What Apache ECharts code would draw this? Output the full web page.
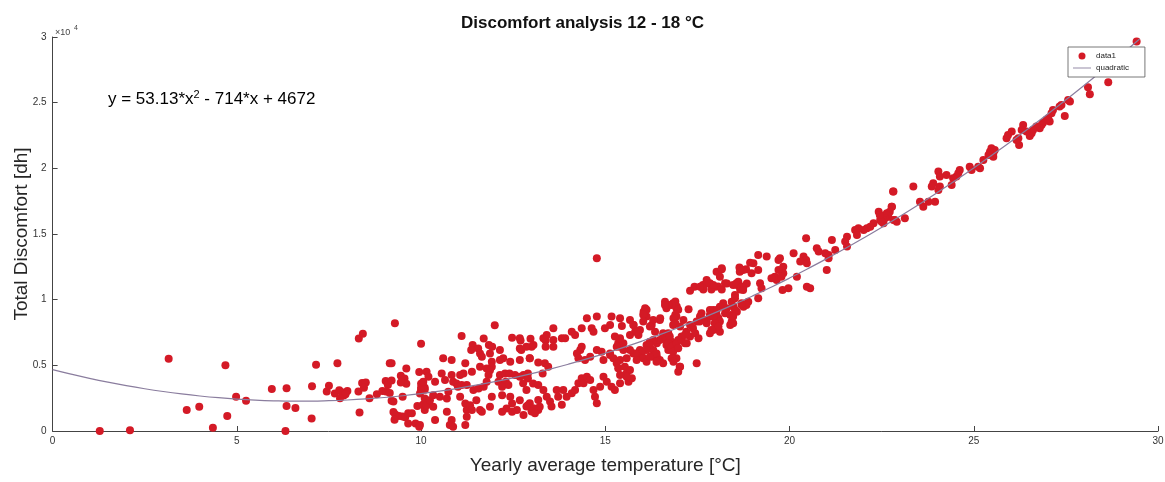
<!DOCTYPE html>
<html>
<head>
<meta charset="utf-8">
<script src="https://cdn.jsdelivr.net/npm/echarts@6/dist/echarts.min.js"></script>
<style>
html,body{margin:0;padding:0;background:#fff;}
#chart{width:1165px;height:482px;}
</style>
</head>
<body>
<div id="chart"></div>
<script>
// ---- data (temperature °C, discomfort dh) ----
var pointsCold = [
[1.28,0],[2.1,60],[3.15,5500],[3.64,1600],[3.98,1850],[4.35,250],[4.69,5000],[4.74,1150],[4.98,2600],[5.25,2300],
[5.95,3200],[6.35,3250],[6.35,1900],[6.59,1750],[6.32,0],[7.03,950],[7.04,3400],[7.15,5050],[7.44,3000],[7.5,3450],
[7.73,5150],[7.66,2850],[7.78,3100],
[8.31,7050],[8.42,7400],[7.85,2950],[7.9,2700],[8.0,3050],[7.95,2800],[7.8,2500],[8.3,3000],[8.4,3650],[8.5,3700],
[8.45,3300],[8.6,2500],[8.8,2800],[8.95,3050],[9.04,3800],[9.1,3500],[9.2,3850],[9.05,3000],[9.15,2900],[9.29,8200],
[9.15,5150],[9.2,5150],[9.45,4200],[9.55,4000],[9.6,3600],[9.45,3700],[9.6,4750],[9.5,2600],[9.2,2300],[9.25,2250],
[9.95,4500],[8.33,1400],[9.25,1450],[9.3,1250],[9.4,1150],[9.5,1100],[9.57,1050],[9.28,850],[9.65,1350],[9.75,1350],
[9.65,580],[9.85,580],[9.95,330],[9.9,1900]
];
var pointsMild = [
[10.0,3600],[10.05,3500],[10.1,3300],[10.0,3300],[10.1,3150],[10.0,6650],[10.05,2000],[10.1,1600],
[12.0,8050],[11.1,7240],[12.47,7100],[12.7,6900],[12.97,7020],[13.38,6900],[11.7,7050],[11.84,6540],[11.93,6410],
[11.4,6540],[11.55,6290],[11.6,5910],[11.65,5650],[11.36,6160],[12.68,6280],[13.0,6410],[13.38,6410],[10.6,5530],
[10.83,5400],[12.14,6160],[12.23,5530],[12.14,5400],[12.42,5270],[11.87,5910],[11.92,5270],[11.92,4890],[11.2,5150],
[11.38,4510],[11.15,4380],[11.06,4260],[11.6,4890],[11.78,4760],[11.87,4630],[12.68,5400],[12.95,5530],[13.18,5210],
[13.36,5150],[13.45,4890],[10.15,4510],[10.2,4130],[10.38,3750],[10.56,4380],[10.65,3880],[10.06,3750],[10.0,3120],
[10.83,4260],[10.87,3750],[10.96,3620],[11.0,3370],[11.1,3500],[11.24,3500],[11.42,3120],[11.56,3240],[11.7,3370],
[11.78,3750],[11.83,4260],[12.14,4260],[12.28,4380],[12.4,4380],[12.55,4260],[12.78,4260],[12.9,4380],[12.1,3750],
[12.3,3750],[12.37,3500],[12.9,4000],[13.04,3620],[13.18,3500],[13.3,4380],[9.97,2860],[10.1,2480],[10.15,1970],
[10.24,2350],[10.33,2730],[10.51,2600],[10.7,2480],[10.74,2990],[11.06,2600],[11.2,2100],[11.24,1590],[11.33,1970],
[11.38,1590],[11.5,2350],[11.6,1590],[11.65,1460],[11.92,2600],[11.87,1840],[12.2,3370],[12.2,2730],[12.42,2600],
[12.47,2100],[12.32,1720],[12.68,2350],[12.9,1970],[13.0,1590],[13.08,1460],[13.18,1590],[13.22,1840],[12.2,1460],
[12.47,1460],[12.6,1590],[12.78,1210],[10.33,1840],[10.38,830],[10.7,1460],[10.83,830],[10.78,450],[10.87,320],
[11.2,450],[11.24,1080],[9.97,450]
];
var pointsModerate = [
[14.77,13150],[12.68,7060],[12.72,6170],[12.95,5530],[12.86,6420],[13.05,6550],[13.32,7060],[13.41,7310],[13.59,6930],
[13.59,6420],[13.59,7820],[13.82,7060],[13.91,7060],[14.09,7560],[14.18,7310],[14.36,7820],[14.5,8580],[14.63,7820],
[14.68,7560],[14.36,6420],[14.32,6170],[14.23,5910],[14.27,5530],[14.45,5400],[14.59,5660],[14.77,6170],[14.9,6040],
[14.95,5400],[15.13,5790],[14.77,8710],[14.99,7820],[15.13,8070],[15.17,8710],[15.4,8580],[15.45,8000],[15.67,8450],
[15.77,8070],[15.81,7560],[15.67,7310],[15.9,7310],[16.08,9340],[16.04,9080],[16.12,8710],[16.26,8070],[16.35,7560],
[16.48,8450],[16.66,9340],[16.62,9850],[16.84,9720],[16.93,9340],[16.93,8710],[16.84,8070],[17.42,10990],[17.65,11120],
[17.75,11500],[17.84,11250],[17.97,10990],[18.02,12130],[18.11,11750],[17.2,7560],[17.38,7820],[17.56,8330],[17.7,8450],
[17.84,8710],[17.97,8960],[17.48,5150],
[15.35,6680],[15.4,6420],[15.49,6170],[15.4,5400],[15.58,5530],[15.76,5910],[15.94,6170],[16.12,6550],[16.21,6800],
[16.4,6680],[16.48,6930],[16.66,6550],[16.71,6170],[16.84,6170],[16.93,5530],[17.02,4890],[16.3,6170],[16.4,5660],
[16.57,7190],[16.71,7440],[16.8,6800],[16.89,6550],[16.98,6930],[17.07,7190],[17.16,6680],
[12.68,4140],[12.77,3630],[12.86,3120],[12.95,2110],[13.05,1730],[12.86,1860],[13.0,1480],[13.09,1350],[13.18,2360],
[13.32,3120],[13.41,2610],[13.5,2240],[13.54,1860],[13.68,3120],[13.72,2610],[13.82,1990],[13.86,3120],[13.95,2610],
[14.09,2870],[14.18,3120],[14.27,3630],[14.36,4010],[14.41,3630],[14.5,4140],[14.59,3880],[14.68,3120],[14.72,2610],
[14.77,2110],[14.86,3370],[14.95,4140],[15.04,3750],[15.17,3370],[15.26,3120],[15.4,3630],[15.58,4390],[15.63,3750],
[18.16,12310],[18.64,12440],[18.82,12310],[18.93,12820],[17.79,11240],[17.66,10780],[17.88,10780],[18.06,11000],
[18.16,10780],[18.3,11240],[18.57,11120],[18.66,10780],[18.75,11000],[18.52,10360],[18.84,11240],[17.3,10680],
[16.9,9860],[16.94,9480],[16.8,9600],[16.71,9600],[16.98,9230],[16.9,8850],[17.26,9270],[16.62,9600],[16.12,9230],
[16.03,8850],[16.49,8580],[16.3,8450],[16.03,8330],[16.21,7950],[15.94,7690],[15.85,7560],[15.76,8070],
[16.85,8580],[16.9,8200],[17.03,7950],[17.12,8450],[17.3,8070],[17.48,8330],[17.61,8450],[17.75,8330],[17.84,8830],
[17.93,9210],[18.02,8830],[18.07,8580],[18.11,8330],[18.25,8960],[18.3,9340],[18.39,8830],[18.43,8330],[18.39,8070],
[18.48,9460],[18.57,9080],[18.7,9590],[18.75,9460],
[17.3,7190],[17.44,7440],[17.53,7060],[17.84,7440],[17.93,7690],[18.02,7820],[18.11,7560],
[16.57,7440],[16.62,7190],[16.66,6930],[16.75,7190],[16.71,6680],[16.8,6420],[16.84,6040],[16.94,6680],[16.98,6300],
[17.07,6930],[17.16,7310],[17.21,6680],
[16.3,6930],[16.21,6550],[16.12,6170],[15.99,5910],[15.9,5660],[15.81,5910],[15.67,6170],[15.49,6680],[15.4,7060],
[15.26,7190],[15.31,6420],[15.13,5910],
[16.3,5660],[16.39,5910],[16.48,5410],[16.57,5150],[16.8,5530],[16.85,5280],[17.03,4900],[16.98,4520],
[15.22,5530],[15.31,5150],[15.35,4770],[15.53,4900],[15.67,4650],[15.72,4010],[15.58,4140],[15.4,4260],[15.85,5410],
[16.03,5530],[16.12,5280],[16.21,5660],[16.39,5280]
];
var pointsWarm = [
[22.82,18230],[22.78,17080],[22.64,16580],[22.51,16320],[22.42,16700],[22.46,16070],[22.55,15820],[22.82,16070],
[22.91,15940],[22.28,15820],[22.19,15560],[22.1,15440],[22.01,15310],[21.87,15440],[21.78,15310],[21.83,14930],
[21.56,14800],[21.51,14420],[21.56,14040],[21.15,14550],[21.24,13790],[21.06,13400],[21.06,13150],[20.97,13530],
[20.79,13660],[20.74,13910],[21.01,12260],[20.45,14680],[20.38,13280],[20.45,13020],[20.29,12900],[20.47,12770],
[20.2,11750],[20.47,10990],[20.56,10870],[20.11,13530],[19.83,12510],[19.83,12010],[19.7,12260],[19.6,11750],
[19.65,11500],[19.51,11630],[19.78,11750],[19.97,10870],[19.81,10740],[19.74,13150],[19.7,13020],[19.38,13280],
[19.15,13400],[19.02,12770],[19.15,12260],[18.97,12010],[18.74,12260],[18.65,12130],[18.61,11370],[19.2,11250],
[19.24,10870],[19.15,10100],[18.88,9850],[18.83,9600],[18.7,9720],[18.52,10100],[18.43,9850],[18.52,9220],
[18.47,8710],[18.47,8200],[18.2,9720],[18.11,9470],[18.02,9220],[17.84,9220],[17.93,8710],[17.97,8200],[18.07,7950],
[17.88,7690],[17.75,8200],[17.66,8450],[17.61,8960],[17.57,8710],[18.16,12390],[18.25,11250],[18.47,11120],
[18.56,11250],[18.7,10990],[18.74,10740],[17.93,11120],[17.75,11250],[17.66,10870],[17.57,10990]
];
var pointsHot = [
[29.42,29650],[28.65,26550],[28.1,26170],[28.15,25640],[27.61,25080],[27.56,25210],[27.38,24830],[27.33,24700],
[27.47,23990],[27.15,24450],[27.11,24190],[27.02,23810],[27.06,23560],[26.97,23690],[26.88,23480],[26.84,23300],
[26.79,23050],[26.7,23180],[26.61,22920],[26.57,22670],[26.52,22470],[26.43,22800],[26.34,23300],[26.3,22920],
[26.21,22290],[26.23,21780],[26.16,22160],[26.03,22800],[25.89,22290],[25.93,22540],[25.57,21400],[25.53,21150],
[25.48,21530],[25.44,21270],[25.4,21020],[25.53,20890],[25.26,20640],[25.17,20000],[25.12,20130],[24.89,20130],
[24.94,19880],[24.62,19880],[24.58,19620],[24.53,19370],[24.44,19240],[24.4,18740],[24.26,19500],[24.04,19750],
[24.08,19370],[24.08,18610],[24.04,18350],[23.9,18860],[23.86,18610],[23.77,17460],[23.63,17080],[23.54,17460],
[23.95,17460],[23.36,18610],[22.81,18230],[22.77,17080],[22.72,16700],[22.68,16320],[22.63,16450],[22.59,16200],
[22.54,16070],[22.5,15940],[22.86,16070],[23.13,16200],[22.45,16450]
];
// quadratic fit y = 53.13*x^2 - 714*x + 4672, tabulated
var fitX = [0,0.5,1,1.5,2,2.5,3,3.5,4,4.5,5,5.5,6,6.5,7,7.5,8,8.5,9,9.5,10,10.5,11,11.5,12,12.5,13,13.5,14,14.5,
            15,15.5,16,16.5,17,17.5,18,18.5,19,19.5,20,20.5,21,21.5,22,22.5,23,23.5,24,24.5,25,25.5,26,26.5,27,27.5,28,28.5,29,29.5];
var fitY = [4672,4328.3,4011.1,3720.5,3456.5,3219.1,3008.2,2823.8,2666.1,2534.9,2430.3,2352.2,2300.7,2275.7,2277.4,2305.6,
            2360.3,2441.6,2549.5,2684.0,2845,3032.6,3246.7,3487.4,3754.7,4048.6,4369.0,4715.9,5089.5,5489.6,5916.3,6369.5,
            6849.3,7355.6,7888.6,8448.1,9034.1,9646.7,10285.9,10951.7,11644,12362.9,13108.3,13880.3,14678.9,15504.1,16355.8,
            17234.0,18138.9,19070.3,20027.8,21012.8,22022.4,23061.5,24123.4,25216.6,26330.3,27477.8,28643.5,29845.4];
var xRange = [0, 30, 5];
var yRange = [0, 30000, 5000];
var titleText = 'Discomfort analysis 12 - 18 °C';
var xName = 'Yearly average temperature [°C]';
var yName = 'Total Discomfort [dh]';

var scatterData = [].concat(pointsCold, pointsMild, pointsModerate, pointsWarm, pointsHot);
var fitData = fitX.map(function (x, i) { return [x, fitY[i]]; });

var FONT = '"Liberation Sans", Arial, Helvetica, sans-serif';
var chart = echarts.init(document.getElementById('chart'));
chart.setOption({
  backgroundColor: '#ffffff',
  animation: false,
  textStyle: { fontFamily: FONT },
  title: {
    text: titleText, left: 'center', top: 10,
    textStyle: { fontFamily: FONT, fontSize: 17, fontWeight: 'bold', color: '#111' }
  },
  grid: { left: 52.6, right: 7, top: 37, bottom: 51, containLabel: false, outerBoundsMode: 'none' },
  legend: {
    orient: 'vertical', left: 1068, top: 47,
    backgroundColor: '#fff', borderColor: '#555', borderWidth: 0.8, borderRadius: 0,
    padding: [5, 16, 5, 5], itemGap: 4, itemWidth: 18, itemHeight: 7,
    textStyle: { fontFamily: FONT, fontSize: 8, color: '#222' },
    data: [
      { name: 'data1', icon: 'circle' },
      { name: 'quadratic', icon: 'path://M0,5L20,5L20,6L0,6Z' }
    ]
  },
  xAxis: {
    type: 'value', min: xRange[0], max: xRange[1], interval: xRange[2],
    name: xName, nameLocation: 'middle', nameGap: 25,
    nameTextStyle: { fontFamily: FONT, fontSize: 19, color: '#262626' },
    axisLine: { show: true, lineStyle: { color: '#444', width: 1 } },
    axisTick: { show: true, inside: true, length: 5, lineStyle: { color: '#444' } },
    axisLabel: { fontSize: 10, color: '#333', margin: 5 },
    splitLine: { show: false }
  },
  yAxis: {
    type: 'value', min: yRange[0], max: yRange[1], interval: yRange[2],
    name: yName, nameLocation: 'middle', nameGap: 21, nameRotate: 90, nameMoveOverlap: false,
    nameTextStyle: { fontFamily: FONT, fontSize: 19, color: '#262626' },
    axisLine: { show: true, lineStyle: { color: '#444', width: 1 } },
    axisTick: { show: true, inside: true, length: 5, lineStyle: { color: '#444' } },
    axisLabel: { fontSize: 10, color: '#333', margin: 6,
      formatter: function (v) { return String(v / 10000); } },
    splitLine: { show: false }
  },
  graphic: [
    {
      type: 'text', left: 55, top: 28,
      style: { text: '×10', font: '9px ' + FONT, fill: '#444' }
    },
    {
      type: 'text', left: 74, top: 25,
      style: { text: '4', font: '7px ' + FONT, fill: '#444' }
    },
    {
      type: 'text', left: 108, top: 89,
      style: {
        rich: {
          n: { fontSize: 17, fontFamily: FONT, color: '#111' },
          s: { fontSize: 11, fontFamily: FONT, color: '#111', verticalAlign: 'top', padding: [0, 0, 9, 0] }
        },
        text: '{n|y = 53.13*x}{s|2}{n| - 714*x + 4672}'
      }
    }
  ],
  series: [
    {
      name: 'data1', type: 'scatter', data: scatterData,
      symbol: 'circle', symbolSize: 8,
      itemStyle: { color: '#d41a26', opacity: 1 },
      z: 2
    },
    {
      name: 'quadratic', type: 'line', data: fitData,
      showSymbol: false, symbol: 'none', smooth: true,
      lineStyle: { color: '#8a7d9e', width: 1.2 },
      itemStyle: { color: '#8a7d9e' },
      z: 3
    }
  ]
});
</script>
</body>
</html>
